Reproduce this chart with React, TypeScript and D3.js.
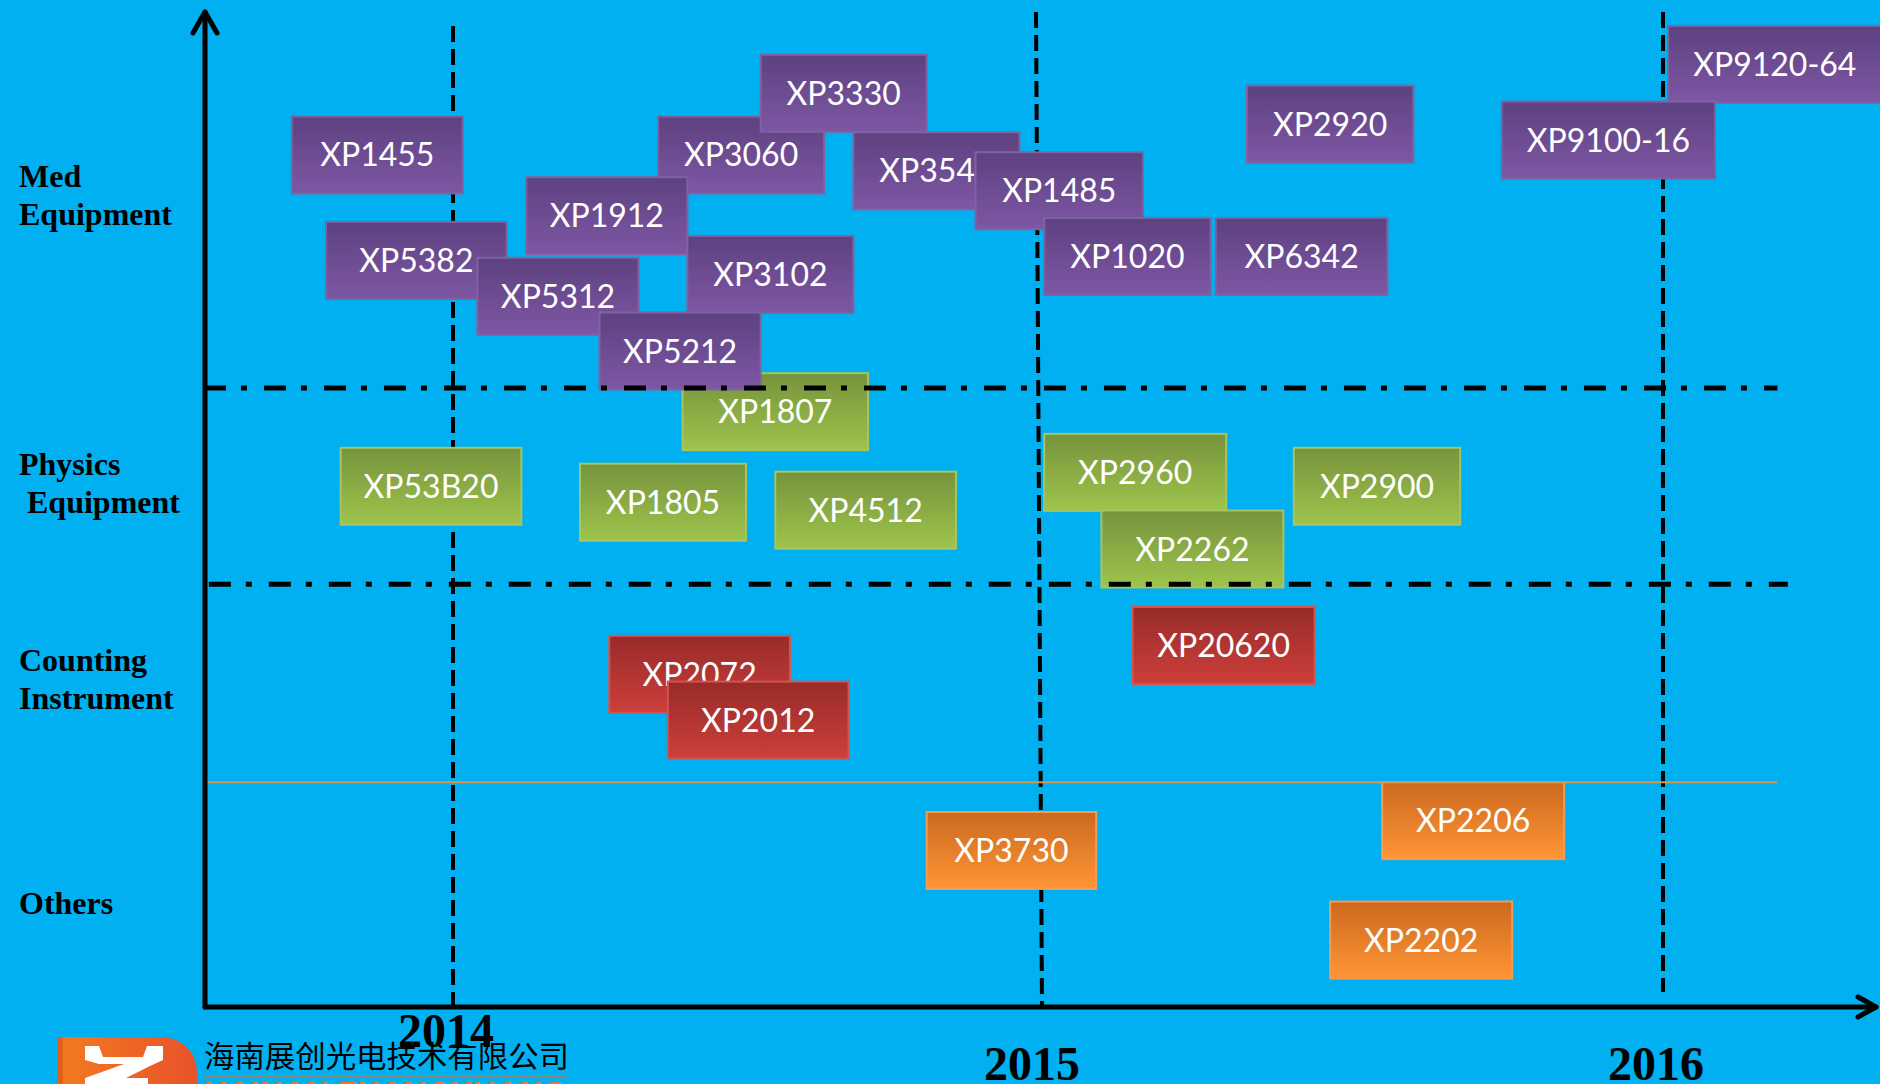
import * as d3 from "d3";

// product boxes, in drawing order: [name, category, start month, end month, top level]
// months counted from Jan 2014, level 0..100 from the time axis to the top
const products: [string, number, number, number, number][] = [
  ["XP3060", 0, 4.2, 7.6, 89.5],
  ["XP3330", 0, 6.3, 9.7, 95.7],
  ["XP1455", 0, -3.3, 0.2, 89.5],
  ["XP5382", 0, -2.6, 1.1, 78.9],
  ["XP1912", 0, 1.5, 4.8, 83.4],
  ["XP5312", 0, 0.5, 3.8, 75.3],
  ["XP3102", 0, 4.8, 8.2, 77.5],
  ["XP3540", 0, 8.2, 11.6, 87.9],
  ["XP1485", 0, 10.7, 14.0, 85.9],
  ["XP1020", 0, 12.1, 15.3, 79.3],
  ["XP6342", 0, 15.4, 18.7, 79.3],
  ["XP2920", 0, 16.0, 19.2, 92.6],
  ["XP9120-64", 0, 24.1, 28.2, 98.6],
  ["XP9100-16", 0, 20.9, 25.0, 91.0],
  ["XP1807", 1, 4.7, 8.5, 63.7],
  ["XP5212", 0, 3.0, 6.3, 69.8],
  ["XP53B20", 1, -2.3, 1.4, 56.2],
  ["XP1805", 1, 2.6, 6.0, 54.6],
  ["XP4512", 1, 6.6, 10.3, 53.8],
  ["XP2960", 1, 12.1, 15.6, 57.6],
  ["XP2262", 1, 13.2, 16.7, 49.9],
  ["XP2900", 1, 16.9, 20.1, 56.2],
  ["XP2072", 2, 3.2, 6.9, 37.3],
  ["XP2012", 2, 4.4, 8.1, 32.7],
  ["XP20620", 2, 13.8, 17.3, 40.2],
  ["XP3730", 3, 9.7, 13.1, 19.6],
  ["XP2206", 3, 18.6, 22.1, 22.6],
  ["XP2202", 3, 17.6, 21.1, 10.6],
];

const categoryLines = [["Med", "Equipment"], ["Physics", " Equipment"], ["Counting", "Instrument"], ["Others"]];
const categoryLabelLevel = [82.4, 53.5, 33.8, 9.3];

const years = ["2014", "2015", "2016"];
const yearMonths = [0, 12, 24];
const yearLineTop = [98.6, 100, 100];
const yearLineBottom = [0, 0, 1.5];

// band separators: [level, from month, to month, kind]
const separators: [number, number, number, string][] = [
  [62.2, -5.1, 26.2, "dashdot"],
  [42.5, -5.0, 26.4, "dashdot"],
  [22.6, -5.1, 26.2, "thin"],
];

const fills = [
  ["#5D4180", "#7E57A4", "#7E63A2"],
  ["#76933C", "#9EC44C", "#A5C463"],
  ["#972B29", "#CD3F3B", "#D2544F"],
  ["#CB691E", "#FF9536", "#F79A50"],
];

const company = "海南展创光电技术有限公司";

const W = 1880, H = 1084;
const boxH = 77;

const x = d3.scaleLinear().domain(yearMonths).range([453, 1039, 1663]);
const y = d3.scaleLinear().domain([0, 100]).range([1007, 12]);
const originX = 205, axisEndX = 1876;

export default function App() {
  return (
    <div style={{ position: "absolute", left: 0, top: 0 }}>
      <svg width={W} height={H} style={{ display: "block" }}>
        <defs>
          {fills.map((f, i) => (
            <linearGradient key={i} id={`g${i}`} x1="0" y1="0" x2="0" y2="1">
              <stop offset="0" stopColor={f[0]} />
              <stop offset="1" stopColor={f[1]} />
            </linearGradient>
          ))}
          <linearGradient id="logo" x1="0" y1="0" x2="1" y2="0">
            <stop offset="0" stopColor="#F47B20" />
            <stop offset="1" stopColor="#E8522A" />
          </linearGradient>
        </defs>
        <rect width={W} height={H} fill="#00B0F0" />

        {/* year lines, the middle one leans a little as in the slide */}
        {yearMonths.map((m, i) => (
          <line key={i} x1={x(m) - (i === 1 ? 3 : 0)} x2={x(m) + (i === 1 ? 3 : 0)}
            y1={y(yearLineTop[i])} y2={y(yearLineBottom[i])}
            stroke="#000" strokeWidth={4} strokeDasharray="16 7" />
        ))}

        {/* product boxes */}
        {products.map(([name, c, s, e, t]) => {
          const x0 = x(s), x1 = x(e), y0 = y(t);
          return (
            <g key={name}>
              <rect x={x0} y={y0} width={x1 - x0} height={boxH} fill={`url(#g${c})`}
                stroke={fills[c][2]} strokeWidth={2} />
              <text x={(x0 + x1) / 2} y={y0 + boxH / 2} dy="0.36em" textAnchor="middle"
                fill="#fff" fontFamily="Lato, 'Open Sans', sans-serif" fontSize={32}>{name}</text>
            </g>
          );
        })}

        {/* band separators */}
        {separators.map(([lv, a, b, kind], i) => (
          <line key={i} x1={x(a)} x2={x(b)} y1={y(lv)} y2={y(lv)}
            stroke={kind === "thin" ? "#D9964E" : "#000"}
            strokeWidth={kind === "thin" ? 2 : 5}
            strokeDasharray={kind === "thin" ? undefined : "22 15 6 17"} />
        ))}

        {/* axes */}
        <g stroke="#000" strokeWidth={5} fill="none" strokeLinecap="round" strokeLinejoin="round">
          <line x1={originX} x2={originX} y1={y(0)} y2={y(100)} />
          <polyline points={`${originX - 12},${y(100) + 21} ${originX},${y(100)} ${originX + 12},${y(100) + 21}`} />
          <line x1={originX} x2={axisEndX} y1={y(0)} y2={y(0)} />
          <polyline points={`${axisEndX - 18},${y(0) - 10} ${axisEndX},${y(0)} ${axisEndX - 18},${y(0) + 10}`} />
        </g>

        {/* category labels */}
        {categoryLines.map((lines, i) => (
          <text key={i} x={19} y={y(categoryLabelLevel[i])} fontFamily="'Liberation Serif', 'Times New Roman', serif"
            fontWeight="bold" fontSize={32} fill="#000" style={{ whiteSpace: "pre" }}>
            {lines.map((l, j) => (
              <tspan key={j} x={19} dy={j === 0 ? 0 : 38}>{l}</tspan>
            ))}
          </text>
        ))}

        {/* logo */}
        <path d={`M58,${H} V1037 H162 A35,35 0 0 1 197,1072 V${H} Z`} fill="url(#logo)" />
        <rect x={58} y={1037} width={5} height={H - 1037} fill="#E06018" />
        <path d="M85,1046 H99 L103,1057 H143 L147,1046 H163 V1060 L150,1066 L126,1078 H148 V1084 H85 V1078 L124,1064 H99 L85,1060 Z" fill="#fff" />
        <text x={204} y={1067} fontFamily="'Noto Sans CJK SC', sans-serif" fontSize={30} fill="#000"
          textLength={365} lengthAdjust="spacingAndGlyphs">{company}</text>
        <line x1={204} x2={567} y1={1076} y2={1076} stroke="#B87A48" strokeWidth={1.5} />
        <text x={204} y={1102} fontFamily="'Liberation Sans', sans-serif" fontWeight="bold" fontSize={30}
          fill="#F07820" textLength={363} lengthAdjust="spacingAndGlyphs">HAINAN ZHANCHUANG</text>

        {/* year labels */}
        {years.map((yr, i) => (
          <text key={yr} x={x(yearMonths[i]) - 7} y={i === 0 ? 1047 : 1080} textAnchor="middle"
            fontFamily="'Liberation Serif', 'Times New Roman', serif" fontWeight="bold" fontSize={48}
            fill="#000">{yr}</text>
        ))}
      </svg>
    </div>
  );
}
